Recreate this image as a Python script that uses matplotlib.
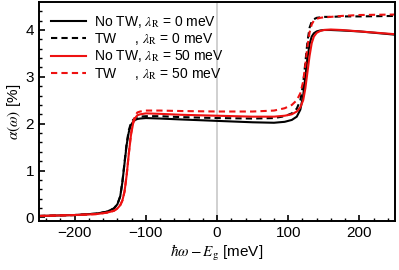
import matplotlib.pyplot as plt
import numpy as np

plt.rcParams['font.family'] = ['Liberation Sans', 'DejaVu Sans']
plt.rcParams['mathtext.fontset'] = 'stix'

# photon energy relative to gap [meV]
x = [-250, -200, -170, -155, -145, -140, -136, -133, -130, -127, -124, -121,
     -118, -115, -112, -108, -100, -80, -50, 0, 50, 80, 95, 105, 112, 117,
     121, 124, 127, 130, 133, 136, 140, 145, 150, 160, 175, 200, 250]

# absorption [%]
no_tw_0 = [0.03, 0.05, 0.08, 0.12, 0.19, 0.28, 0.45, 0.75, 1.15, 1.55, 1.82, 1.97,
           2.04, 2.08, 2.10, 2.11, 2.12, 2.11, 2.09, 2.06, 2.03, 2.02, 2.04, 2.08, 2.15, 2.30,
           2.60, 3.00, 3.40, 3.70, 3.86, 3.93, 3.97, 3.99, 4.00, 4.00, 3.99, 3.97, 3.90]
tw_0 = [0.03, 0.05, 0.08, 0.12, 0.19, 0.28, 0.45, 0.76, 1.17, 1.58, 1.86, 2.01,
        2.08, 2.12, 2.14, 2.15, 2.16, 2.16, 2.14, 2.12, 2.11, 2.12, 2.16, 2.22, 2.32, 2.50,
        2.85, 3.30, 3.75, 4.05, 4.18, 4.23, 4.26, 4.27, 4.28, 4.28, 4.29, 4.29, 4.30]
no_tw_50 = [0.03, 0.05, 0.07, 0.10, 0.14, 0.19, 0.26, 0.36, 0.55, 0.90, 1.35, 1.75,
            2.00, 2.12, 2.18, 2.20, 2.22, 2.21, 2.19, 2.17, 2.15, 2.15, 2.17, 2.20, 2.26, 2.35,
            2.50, 2.75, 3.10, 3.45, 3.72, 3.86, 3.94, 3.98, 4.00, 4.01, 4.00, 3.97, 3.91]
tw_50 = [0.03, 0.05, 0.07, 0.10, 0.14, 0.19, 0.26, 0.36, 0.55, 0.90, 1.36, 1.78,
         2.04, 2.17, 2.24, 2.26, 2.28, 2.28, 2.27, 2.26, 2.26, 2.28, 2.33, 2.40, 2.50, 2.65,
         2.90, 3.25, 3.65, 3.95, 4.12, 4.20, 4.24, 4.26, 4.27, 4.28, 4.30, 4.32, 4.33]

fig = plt.figure(figsize=(3.99, 2.70), dpi=100)
ax = fig.add_axes([0.098, 0.181, 0.892, 0.812])

ax.axvline(0, color='#c8c8c8', lw=1.2, zorder=0)
ax.plot(x, no_tw_0, color='black', lw=1.5, label=r'No TW, $\lambda_\mathrm{R}$ = 0 meV')
ax.plot(x, tw_0, color='black', lw=1.5, ls=(0, (3, 2)), label=r'TW     , $\lambda_\mathrm{R}$ = 0 meV')
ax.plot(x, no_tw_50, color='#ee1111', lw=1.5, label=r'No TW, $\lambda_\mathrm{R}$ = 50 meV')
ax.plot(x, tw_50, color='#ee1111', lw=1.5, ls=(0, (3, 2)), label=r'TW     , $\lambda_\mathrm{R}$ = 50 meV')

ax.set_xlim(-250, 250)
ax.set_ylim(-0.08, 4.6)
ax.set_xticks([-200, -100, 0, 100, 200])
ax.set_xticklabels(['\u2212200', '\u2212100', '0', '100', '200'])
ax.set_yticks([0, 1, 2, 3, 4])
ax.set_xticks(np.arange(-240, 250, 20), minor=True)
ax.set_yticks(np.arange(0, 4.6, 0.2), minor=True)
ax.tick_params(which='both', direction='in', labelsize=11, top=False, right=False)
ax.tick_params(which='major', length=4, width=1.2)
ax.tick_params(which='minor', length=2.5, width=1)
for s in ax.spines.values():
    s.set_linewidth(1.4)

ax.set_xlabel(r'$\hbar\omega - E_\mathrm{g}$ [meV]', fontsize=11, labelpad=2)
ax.set_ylabel(r'$\alpha(\omega)$ [%]', fontsize=11, labelpad=2)

ax.legend(loc='upper left', frameon=False, fontsize=10, handlelength=2.5,
          labelspacing=0.1, borderaxespad=0.45, handletextpad=0.6)

fig.savefig('out.png', dpi=100)
